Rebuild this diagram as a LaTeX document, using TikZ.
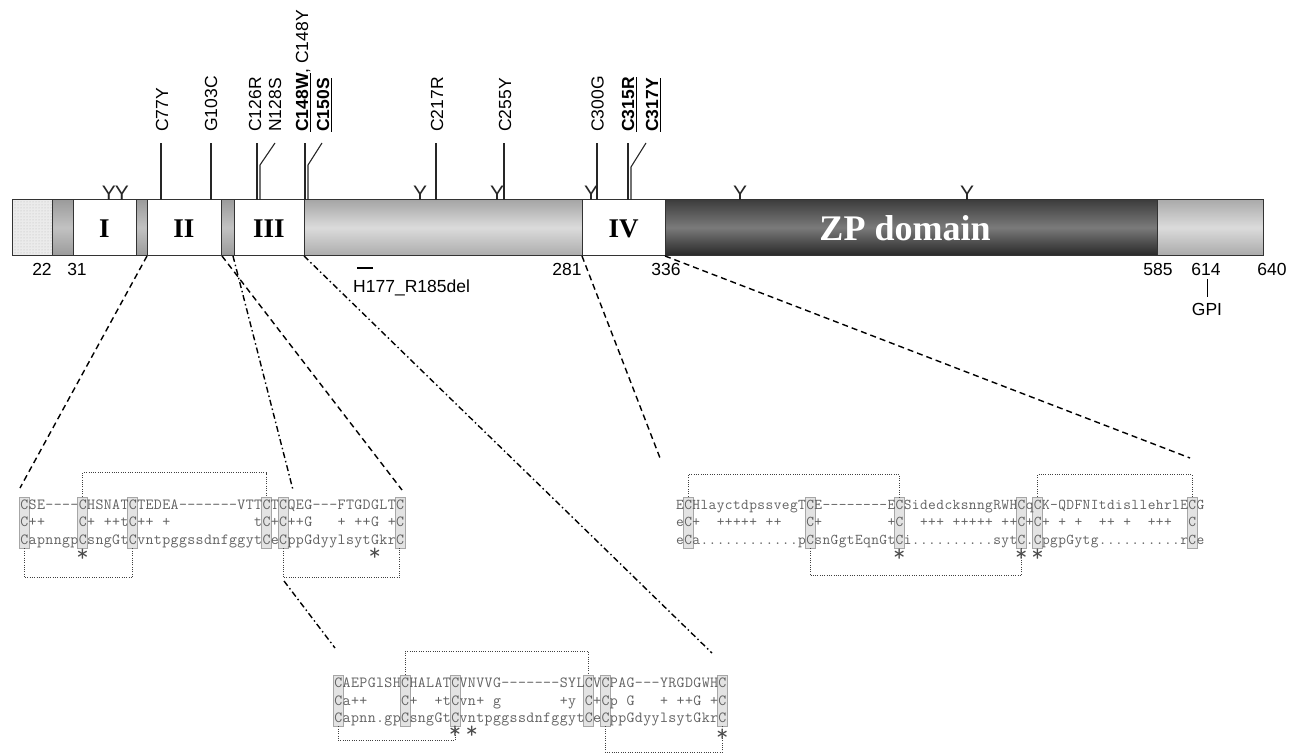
\documentclass[tikz,border=0pt]{standalone}
\usepackage{fontspec}
\setmainfont{Liberation Sans}
\newfontfamily\romfont{Liberation Serif}
\usetikzlibrary{patterns}
\definecolor{seqgray}{gray}{0.38}
\newlength\seqw
\setlength\seqw{8.35pt}
\ExplSyntaxOn
\cs_new_protected:Npn \seqrowtxt #1
  {
    \str_map_inline:nn {#1}
      {
        \str_if_eq:nnTF {##1} {_}
          { \hbox_to_wd:nn { \seqw } { \hfil } }
          { \hbox_to_wd:nn { \seqw } { \hss ##1 \hss } }
      }
  }
\ExplSyntaxOff
\begin{document}
\begin{tikzpicture}[x=1pt,y=-1pt,
  lab/.style={font=\fontsize{17.5}{20}\selectfont, inner sep=0pt},
  mut/.style={lab, rotate=90, anchor=base west},
  mline/.style={line width=1.1pt, black!85},
  gly/.style={font=\fontsize{21}{22}\selectfont, inner sep=0pt, anchor=south, text=black!85},
  roman/.style={font=\romfont\bfseries\fontsize{27}{28}\selectfont, inner sep=0pt},
  seqline/.style={font=\fontsize{15.5}{16}\ttfamily, text=seqgray, inner sep=0pt, anchor=base west},
  seqlineR/.style={font=\fontsize{15}{16}\ttfamily, text=seqgray, inner sep=0pt, anchor=base west},
  cbox/.style={draw=gray!70, fill=gray!22, line width=0.8pt, minimum width=10pt, minimum height=51pt, inner sep=0pt},
  dis/.style={dash pattern=on 1pt off 1.3pt, line width=0.9pt, black!75},
  ast/.style={font=\fontsize{24}{24}\ttfamily, text=black!70, inner sep=0pt, anchor=north},
  dashL/.style={line width=1.4pt, dash pattern=on 6pt off 4pt},
  dashD/.style={line width=1.4pt, dash pattern=on 6pt off 3pt on 1.5pt off 3pt},
  segline/.style={black!80, line width=1pt},
  declare function={lx(\i)=24.175+8.35*\i; bx(\i)=338.175+8.35*\i; rx(\i)=679.865+8.13*\i;}
]
\useasboundingbox (0,0) rectangle (1301,754);

% ---------- main bar ----------
\fill[gray!16] (12,200) rectangle (52,255);
\fill[pattern=dots, pattern color=gray!55] (12,200) rectangle (52,255);
\shade[top color=gray!78, bottom color=gray!78, middle color=gray!48] (52,200) rectangle (73,255);
\fill[white] (73,200) rectangle (136,255);
\shade[top color=gray!78, bottom color=gray!78, middle color=gray!48] (136,200) rectangle (147,255);
\fill[white] (147,200) rectangle (221,255);
\shade[top color=gray!78, bottom color=gray!78, middle color=gray!48] (221,200) rectangle (234,255);
\fill[white] (234,200) rectangle (304,255);
\shade[top color=gray!70, bottom color=gray!64, middle color=gray!28] (304,200) rectangle (582,255);
\fill[white] (582,200) rectangle (665,255);
\shade[top color=black!76, bottom color=black!84, middle color=black!52] (665,200) rectangle (1157,255);
\shade[top color=gray!66, bottom color=gray!66, middle color=gray!28] (1157,200) rectangle (1263,255);
\draw[segline] (12,200) rectangle (1263,255);
\foreach \x in {52,73,136,147,221,234,304,582,665,1157}
  \draw[segline] (\x,200) -- (\x,255);

\node[roman] (dI)   at (104.5,229) {I};
\node[roman] (dII)  at (184,229) {II};
\node[roman] (dIII) at (269,229) {III};
\node[roman] (dIV)  at (623.5,229) {IV};
\node[font=\romfont\bfseries\fontsize{36}{40}\selectfont, text=white, inner sep=0pt] (zp) at (905,228) {ZP domain};

% ---------- glycosylation sites ----------
\foreach \x/\n in {109/g1,122/g2,420/g3,497/g4,591/g5,740/g6,967/g7}
  \node[gly] (\n) at (\x,200.5) {Y};

% ---------- mutation lines ----------
\draw[mline] (161,200) -- (161,143);
\draw[mline] (211,200) -- (211,143);
\draw[mline] (257,200) -- (257,143);
\draw[mline] (260,200) -- (260,165) -- (275,143);
\draw[mline] (305,200) -- (305,143);
\draw[mline] (308,200) -- (308,165) -- (322,143);
\draw[mline] (436,200) -- (436,143);
\draw[mline] (504,200) -- (504,143);
\draw[mline] (597,200) -- (597,143);
\draw[mline] (628,200) -- (628,143);
\draw[mline] (631,200) -- (631,167) -- (646,143);

\node[mut] (m77)  at (168.2,132) {C77Y};
\node[mut] (m103) at (217.2,132) {G103C};
\node[mut] (m126) at (261.2,132) {C126R};
\node[mut] (m128) at (281.2,132) {N128S};
\node[mut] (m148) at (308.2,132) {\underline{\textbf{C148W}}, C148Y};
\node[mut] (m150) at (329.2,132) {\underline{\textbf{C150S}}};
\node[mut] (m217) at (443,132) {C217R};
\node[mut] (m255) at (511,132) {C255Y};
\node[mut] (m300) at (603.5,132) {C300G};
\node[mut] (m315) at (634.2,132) {\underline{\textbf{C315R}}};
\node[mut] (m317) at (658.2,132) {\underline{\textbf{C317Y}}};

% ---------- position numbers ----------
\node[lab, anchor=base] (p22)  at (42,275) {22};
\node[lab, anchor=base] (p31)  at (77,275) {31};
\node[lab, anchor=base] (p281) at (567,275) {281};
\node[lab, anchor=base] (p336) at (666,275) {336};
\node[lab, anchor=base] (p585) at (1158,275) {585};
\node[lab, anchor=base] (p614) at (1206,275) {614};
\node[lab, anchor=base] (p640) at (1272,275) {640};
\node[lab, anchor=base] (gpi)  at (1207,315) {GPI};
\draw[line width=1pt] (1207,279) -- (1207,297);
\node[lab, anchor=base west] (del) at (353,292) {H177\_R185del};
\draw[line width=1.8pt] (357,268) -- (373,268);

% ---------- expansion lines ----------
\draw[dashL] (147,256) -- (20,488);
\draw[dashL] (222,256) -- (402,490);
\draw[dashD] (233,256) -- (293,490);
\draw[dashD] (284,581) -- (335,648);
\draw[dashD] (304,256) -- (712,653);
\draw[dashL] (582,256) -- (660,458);
\draw[dashL] (665,256) -- (1190,458);

% ---------- left alignment ----------
\foreach \i in {0,7,13,29,31,45}
  \node[cbox] (L\i) at ({lx(\i)},522.5) {};
\node[seqline] (l1) at (20,509)   {\seqrowtxt{CSE----CHSNATCTEDEA-------VTTCTCQEG---FTGDGLTC}};
\node[seqline] (l2) at (20,526.5) {\seqrowtxt{C++____C+_++tC++_+__________tC+C++G___+_++G_+C}};
\node[seqline] (l3) at (20,544)   {\seqrowtxt{CapnngpCsngGtCvntpggssdnfggytCeCppGdyylsytGkrC}};
\draw[dis] (L7.north) -- ++(0,-24) -| (L29.north);
\draw[dis] (L0.south) -- ++(0,29) -| (L13.south);
\draw[dis] (L31.south) -- ++(0,29) -| (L45.south);
\node[ast] (la1) at ({lx(7)},549) {*};
\node[ast] (la2) at ({lx(42)},548) {*};

% ---------- bottom alignment ----------
\foreach \i in {0,8,14,30,32,46}
  \node[cbox] (B\i) at ({bx(\i)},700.5) {};
\node[seqline] (b1) at (334,687) {\seqrowtxt{CAEPGlSHCHALATCVNVVG-------SYLCVCPAG---YRGDGWHC}};
\node[seqline] (b2) at (334,705) {\seqrowtxt{Ca++____C+__+tCvn+_g_______+y_C+Cp_G___+_++G_+C}};
\node[seqline] (b3) at (334,722) {\seqrowtxt{Capnn.gpCsngGtCvntpggssdnfggytCeCppGdyylsytGkrC}};
\draw[dis] (B8.north) -- ++(0,-23) -| (B30.north);
\draw[dis] (B0.south) -- ++(0,14) -| (B14.south);
\draw[dis] (B32.south) -- ++(0,26) -| (B46.south);
\node[ast] (ba1) at ({bx(14)},726) {*};
\node[ast] (ba2) at ({bx(16)},726) {*};
\node[ast] (ba3) at ({bx(46)},729) {*};

% ---------- right alignment ----------
\setlength\seqw{8.13pt}
\foreach \i in {1,16,27,42,44,63}
  \node[cbox] (R\i) at ({rx(\i)},522.5) {};
\node[seqlineR] (r1) at (675.8,509)   {\seqrowtxt{ECHlayctdpssvegTCE--------ECSidedcksnngRWHCqCK-QDFNItdisllehrlECG}};
\node[seqlineR] (r2) at (675.8,526.5) {\seqrowtxt{eC+__+++++_++___C+________+C__+++_+++++_++C+C+_+_+__++_+__+++__C}};
\node[seqlineR] (r3) at (675.8,544)   {\seqrowtxt{eCa............pCsnGgtEqnGtCi..........sytC.CpgpGytg..........rCe}};
\draw[dis] (R1.north) -- ++(0,-22) -| (R27.north);
\draw[dis] (R44.north) -- ++(0,-22) -| (R63.north);
\draw[dis] (R16.south) -- ++(0,27) -| (R42.south);
\node[ast] (ra1) at ({rx(27)},549) {*};
\node[ast] (ra2) at ({rx(42)},549) {*};
\node[ast] (ra3) at ({rx(44)},549) {*};
\end{tikzpicture}
\end{document}
